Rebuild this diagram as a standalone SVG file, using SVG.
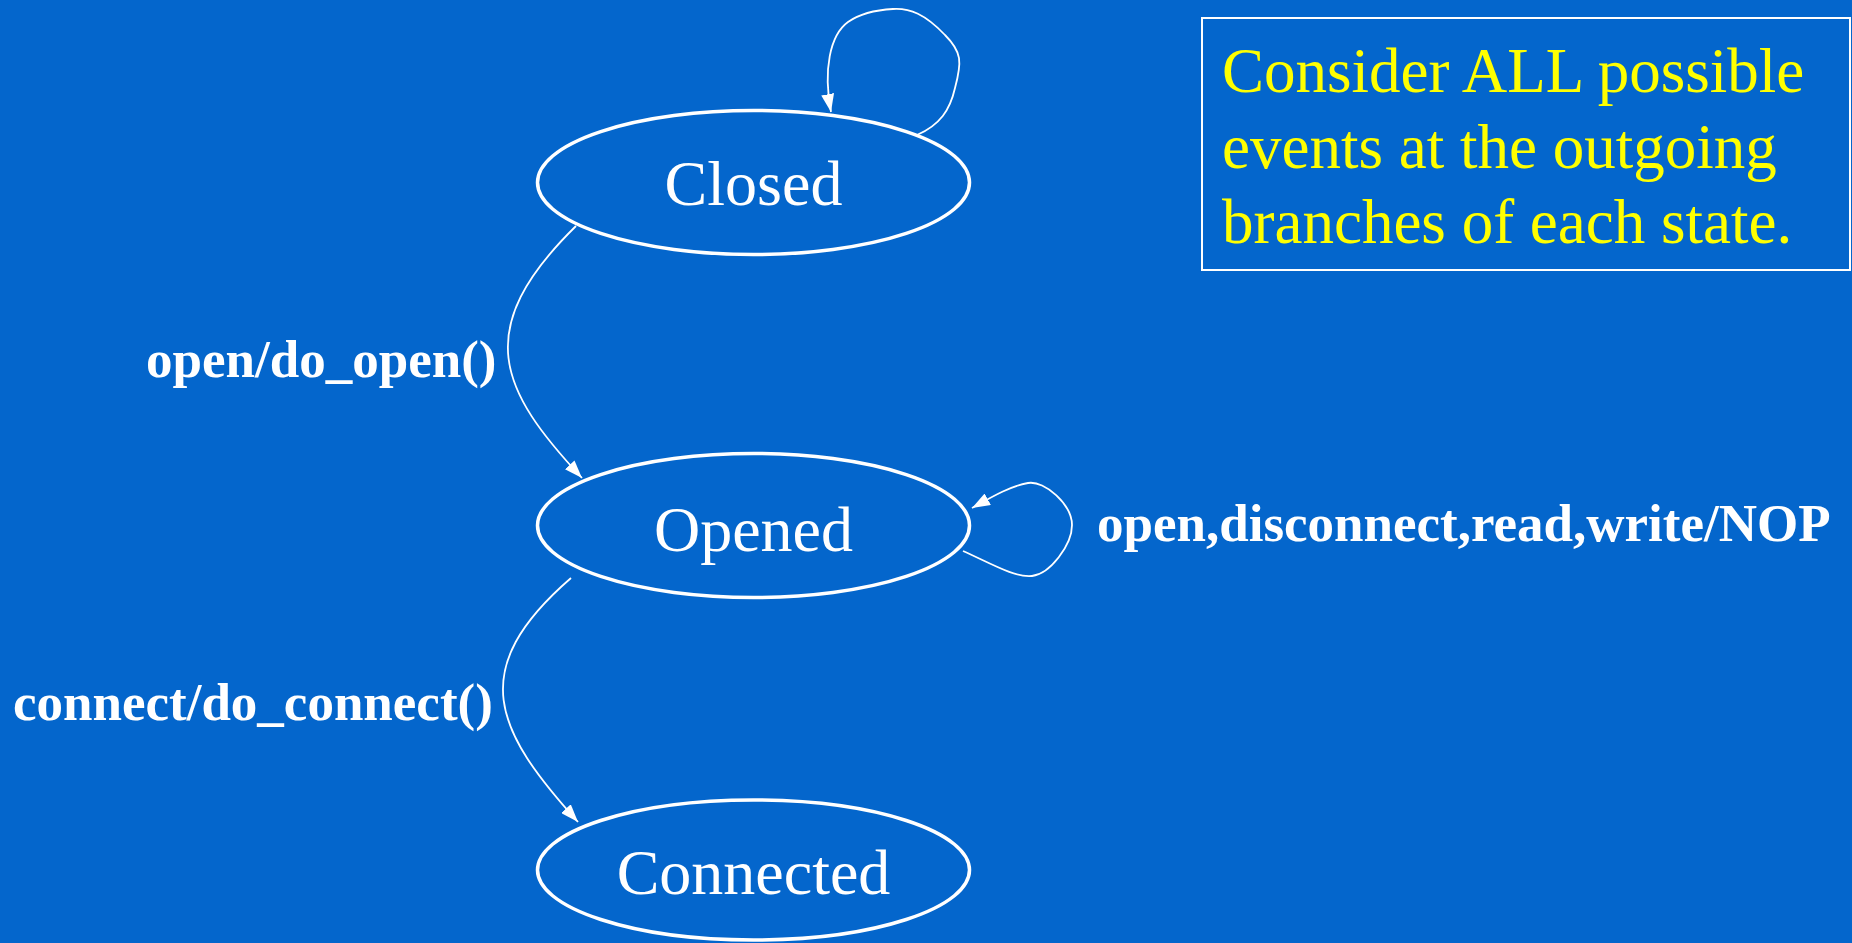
<svg xmlns="http://www.w3.org/2000/svg" width="1852" height="943" viewBox="0 0 1852 943">
  <style>
    .state { fill: none; stroke: #ffffff; stroke-width: 3.5; }
    .state-label { font-family: "Liberation Serif", "Times New Roman", serif; font-size: 64px; fill: #ffffff; text-anchor: middle; }
    .edge { fill: none; stroke: #ffffff; stroke-width: 1.8; marker-end: url(#arrow); }
    .edge-label { font-family: "Liberation Serif", "Times New Roman", serif; font-size: 53px; font-weight: bold; fill: #ffffff; }
    .note-box { fill: none; stroke: #ffffff; stroke-width: 2; }
    .note-text { font-family: "Liberation Serif", "Times New Roman", serif; font-size: 63px; fill: #ffff00; }
  </style>
  <defs>
    <marker id="arrow" markerUnits="userSpaceOnUse" markerWidth="18" markerHeight="13" refX="18" refY="6.5" orient="auto">
      <path d="M0,0 L18,6.5 L0,13 z" fill="#ffffff"/>
    </marker>
  </defs>

  <rect x="0" y="0" width="1852" height="943" fill="#0466cc"/>

  <!-- transitions -->
  <g id="connectors">
    <path id="closed-self" class="edge" d="M 917 135 C 940 125, 950 110, 955 88 C 962 62, 962 52, 945 35 C 925 14, 910 8, 893 9 C 875 10, 858 15, 848 22 C 830 35, 823 70, 831 112"/>
    <path id="closed-opened" class="edge" d="M 576 226 C 470 330, 500 390, 582 478"/>
    <text class="edge-label" x="146" y="377">open/do_open()</text>
    <path id="opened-self" class="edge" d="M 963 551 C 990 563, 1015 578, 1032 576 C 1050 574, 1072 545, 1072 525 C 1072 505, 1045 480, 1028 483 C 1010 486, 990 498, 972 508"/>
    <text class="edge-label" x="1097" y="541">open,disconnect,read,write/NOP</text>
    <path id="opened-connected" class="edge" d="M 571 578 C 465 670, 495 730, 578 822"/>
    <text class="edge-label" x="13" y="720">connect/do_connect()</text>
  </g>

  <!-- states -->
  <g id="state-closed">
    <ellipse class="state" cx="753.5" cy="182.5" rx="216" ry="72"/>
    <text class="state-label" x="753.5" y="205">Closed</text>
  </g>
  <g id="state-opened">
    <ellipse class="state" cx="753.5" cy="525.5" rx="216" ry="72"/>
    <text class="state-label" x="753.5" y="551">Opened</text>
  </g>
  <g id="state-connected">
    <ellipse class="state" cx="753.5" cy="870" rx="216" ry="70"/>
    <text class="state-label" x="753.5" y="894">Connected</text>
  </g>

  <!-- note -->
  <g id="note">
    <rect class="note-box" x="1202" y="18" width="648" height="252"/>
    <text class="note-text" x="1222" y="92">Consider ALL possible</text>
    <text class="note-text" x="1222" y="168">events at the outgoing</text>
    <text class="note-text" x="1222" y="243">branches of each state.</text>
  </g>
</svg>
